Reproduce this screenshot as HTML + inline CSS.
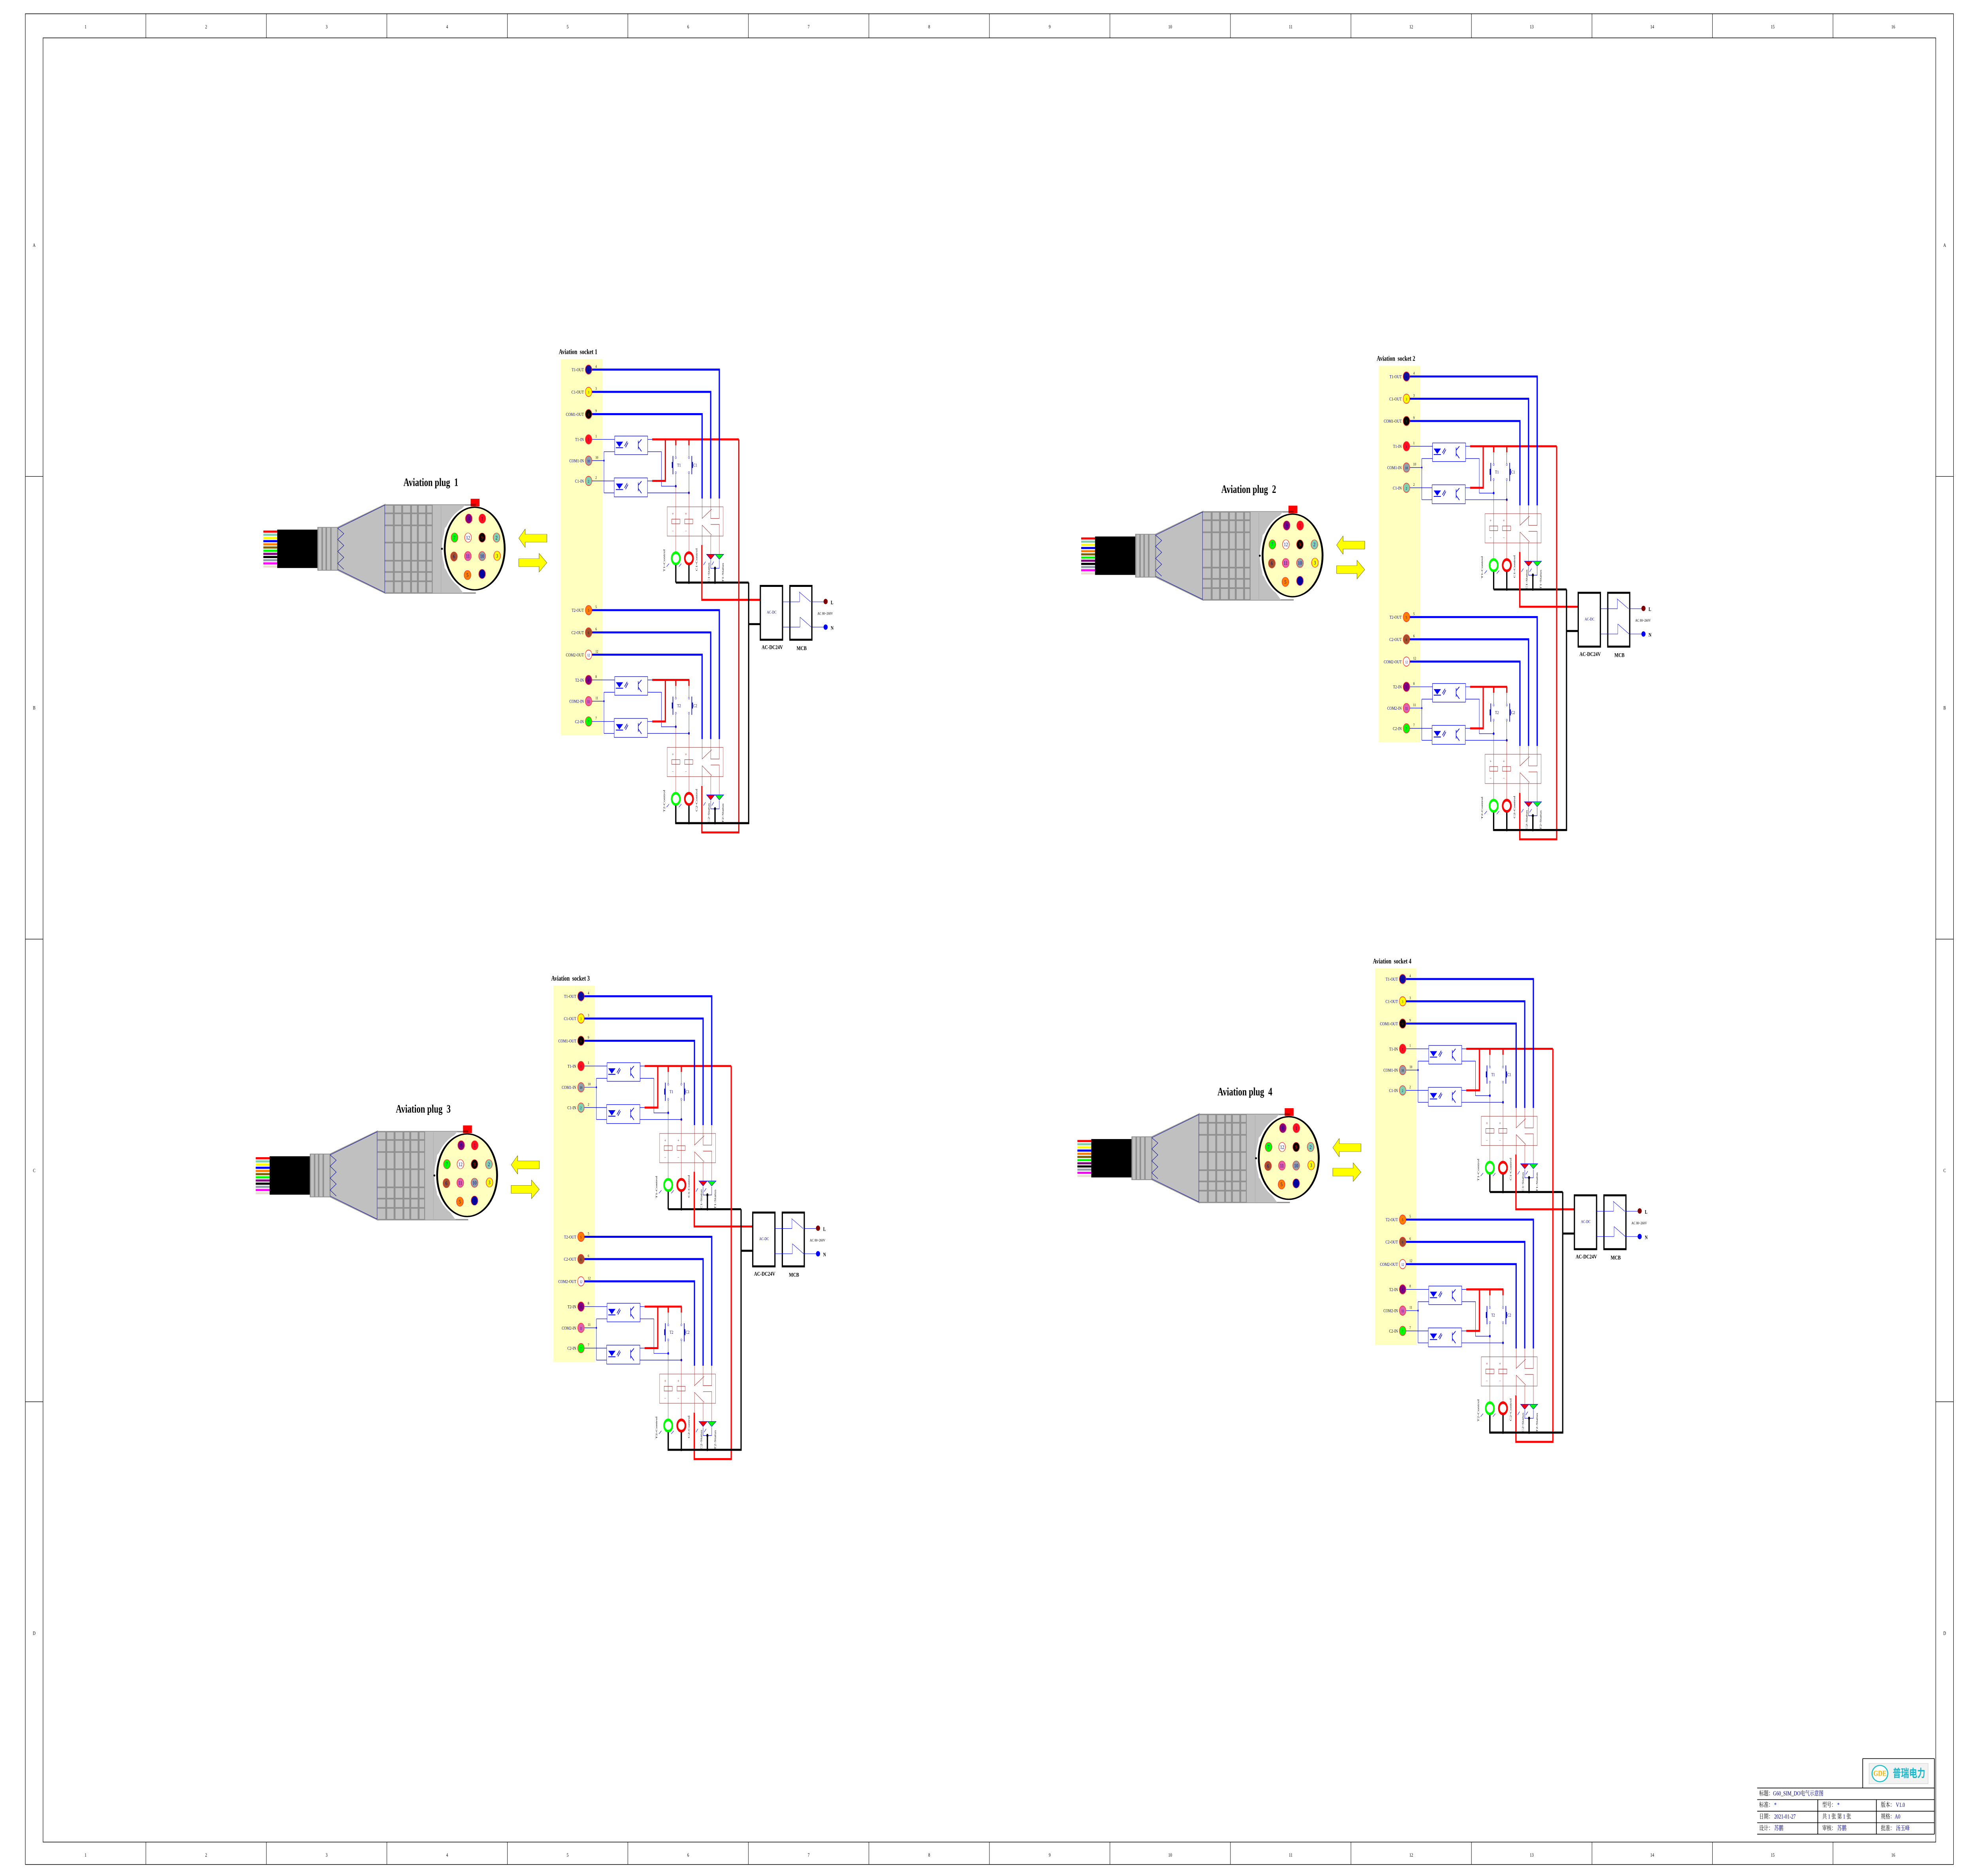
<!DOCTYPE html>
<html><head><meta charset="utf-8">
<style>
html,body{margin:0;padding:0;background:#fff;width:100%;height:100%;overflow:hidden;}
svg{display:block;width:100vw;height:100vh;}
text{font-family:"Liberation Serif","Noto Serif CJK SC",serif;}
.cjk{font-family:"Liberation Serif","Noto Sans CJK SC",sans-serif;}
</style></head>
<body>
<svg id="root" xmlns="http://www.w3.org/2000/svg" viewBox="0 0 6800 4750" preserveAspectRatio="none">
<rect width="6800" height="4750" fill="#fff"/>
<g id="ov" transform="scale(4.359)"></g>
<g transform="translate(6050,4450) scale(0.467,0.333)" fill="none">
  <path d="M778,8H1307M778,8V232M0,232H1307M0,320H1307M0,408H1307M0,496H1307M0,583H1307M447,320V583M879,320V583M1307,8V583" stroke="#000" stroke-width="5"/>
  <rect x="825" y="45" width="435" height="155" fill="#f2f2f2" stroke="#ccc" stroke-width="3"/>
  <ellipse cx="905" cy="122" rx="58" ry="62" fill="#fff" stroke="#20c0c8" stroke-width="8"/>
  <text transform="translate(905,140) scale(1,1.4)" font-size="44" font-weight="bold" fill="#f0b400" text-anchor="middle" font-family="Liberation Sans">GDE</text>
  <text class="cjk" transform="translate(1000,148) scale(1,1.4)" font-size="60" font-weight="bold" fill="#20b8c8">普瑞电力</text>
  <g class="cjk" font-size="34" fill="#000">
    <text transform="translate(15,288) scale(1,1.4)">标题：<tspan fill="#00008b">G60_SIM_DO电气示意图</tspan></text>
    <text transform="translate(15,376) scale(1,1.4)">标准：  <tspan fill="#00008b">*</tspan></text>
    <text transform="translate(480,376) scale(1,1.4)">型号：  <tspan fill="#00008b">*</tspan></text>
    <text transform="translate(912,376) scale(1,1.4)">版本： <tspan fill="#00008b">V1.0</tspan></text>
    <text transform="translate(15,464) scale(1,1.4)">日期： <tspan fill="#00008b">2021-01-27</tspan></text>
    <text transform="translate(480,464) scale(1,1.4)">共  <tspan fill="#00008b">1</tspan>    张  第  <tspan fill="#00008b">1</tspan>    张</text>
    <text transform="translate(912,464) scale(1,1.4)">规格：<tspan fill="#00008b">A0</tspan></text>
    <text transform="translate(15,552) scale(1,1.4)">设计：  <tspan fill="#00008b">苏鹏</tspan></text>
    <text transform="translate(480,552) scale(1,1.4)">审核：  <tspan fill="#00008b">苏鹏</tspan></text>
    <text transform="translate(912,552) scale(1,1.4)">批准：  <tspan fill="#00008b">汤玉峰</tspan></text>
  </g>
</g>
</svg>
<script>
(function(){
var o='';
o+='<rect x="20" y="8" width="1523" height="1075" fill="none" stroke="#000" stroke-width="0.35"/>';
o+='<rect x="34" y="22" width="1495" height="1048" fill="none" stroke="#000" stroke-width="0.35"/>';
var cw=1523/16;
for(var i=1;i<16;i++){var x=(20+cw*i).toFixed(2);o+='<path d="M'+x+',8V22M'+x+',1070V1083" stroke="#000" stroke-width="0.3"/>';}
for(var i=0;i<16;i++){var x=(20+cw*(i+0.5)).toFixed(2);o+='<text x="'+x+'" y="16.5" font-size="3" text-anchor="middle">'+(i+1)+'</text><text x="'+x+'" y="1078.5" font-size="3" text-anchor="middle">'+(i+1)+'</text>';}
var rh=1075/4,L=['A','B','C','D'];
for(var i=1;i<4;i++){var y=(8+rh*i).toFixed(2);o+='<path d="M20,'+y+'H34M1529,'+y+'H1543" stroke="#000" stroke-width="0.3"/>';}
for(var i=0;i<4;i++){var y=(8+rh*(i+0.5)+1).toFixed(2);o+='<text x="27" y="'+y+'" font-size="3" text-anchor="middle">'+L[i]+'</text><text x="1536" y="'+y+'" font-size="3" text-anchor="middle">'+L[i]+'</text>';}

function TX(x,y,t,fs,sy,ex){return '<text transform="translate('+x+','+y+') scale(1,'+sy+')" font-size="'+fs+'" '+(ex||'')+'>'+t+'</text>';}

function plug(n){
 var p='<g transform="translate(196.3,263.8) scale(0.1462,0.0769)">';
 var wc=['#ff0000','#80d0b0','#ffff00','#0000ff','#ff8000','#806000','#00ff00','#800080','#000000','#8fa0a8','#ff00ff','#e8e0d0'];
 for(var i=0;i<12;i++){p+='<rect x="80" y="'+(577+i*24)+'" width="80" height="16" fill="'+wc[i]+'"/>';}
 p+='<rect x="155" y="570" width="220" height="290" fill="#000"/>';
 p+='<rect x="375" y="553" width="107" height="324" fill="#c0c0c0" stroke="#909090" stroke-width="6"/>';
 p+='<path d="M398,553V877M420,553V877M445,553V877" stroke="#909090" stroke-width="8"/>';
 p+='<polygon points="482,553 737,380 737,1050 482,877" fill="#c0c0c0" stroke="#909090" stroke-width="6"/>';
 p+='<path d="M482,560L737,385M482,870L737,1045M737,385V1045M482,560L515,600L482,645L515,690L482,735L515,780L482,825L515,870" stroke="#0000a0" stroke-width="2.5" fill="none"/>';
 p+='<rect x="737" y="380" width="258" height="673" fill="#c0c0c0"/>';
 p+='<path d="M737,384H1228M737,1049H1228" stroke="#909090" stroke-width="10"/>';
 var gx=[785,830,878,915,960,995],gy=[447,538,668,805,890,960];
 gx.forEach(function(x){p+='<path d="M'+x+',384V1049" stroke="#909090" stroke-width="10"/>';});
 gy.forEach(function(y){p+='<path d="M737,'+y+'H995" stroke="#909090" stroke-width="12"/>';});
 p+='<polygon points="995,384 1170,384 1060,560 1045,713 1060,860 1160,1049 995,1049" fill="#c0c0c0"/>';
 p+='<path d="M1040,390V1045" stroke="#aaa" stroke-width="2"/>';
 p+='<ellipse cx="1222" cy="713" rx="162" ry="312" fill="#fff" stroke="#fff" stroke-width="30"/>';
 p+='<ellipse cx="1222" cy="713" rx="162" ry="312" fill="#ffffc0" stroke="#000" stroke-width="10"/>';
 p+='<ellipse cx="1045" cy="715" rx="5" ry="8" fill="#000"/>';
 p+='<rect x="1200" y="337" width="48" height="58" fill="#ff0000"/><rect x="1200" y="375" width="28" height="14" fill="#a00000"/>';
 var pins=[[1190,487,'#800080','8'],[1263,487,'#ff1020','1'],[1113,630,'#00ff00','7'],[1186,630,'#ffffff','12'],[1262,630,'#000000','9'],[1340,630,'#80d0b0','2'],[1110,773,'#a0522d','6'],[1185,770,'#e060b0','11'],[1262,770,'#8fa0a8','10'],[1343,768,'#ffff00','3'],[1183,913,'#ff8000','5'],[1262,905,'#0000a0','4']];
 pins.forEach(function(q){p+='<ellipse cx="'+q[0]+'" cy="'+q[1]+'" rx="18" ry="35" fill="'+q[2]+'" stroke="#ff3030" stroke-width="3"/>'+TX(q[0],q[1]+14,q[3],22,1.9,'text-anchor="middle" fill="'+(q[3]=='9'?'#ff0000':'#00008b')+'"');});
 p+=TX(985,240,'Aviation plug&#160;&#160;'+n,44,1.9,'text-anchor="middle" font-weight="bold"');
 p+='<polygon points="1460,635 1495,565 1495,605 1612,605 1612,665 1495,665 1495,705" fill="#ffff00" stroke="#606000" stroke-width="2"/>';
 p+='<polygon points="1460,790 1570,790 1570,750 1612,820 1570,890 1570,850 1460,850" fill="#ffff00" stroke="#606000" stroke-width="2"/>';
 p+='</g>';
 return p;
}

function bank(k,d){
 var b='<g transform="translate(0,'+d+')">';
 b+='<path d="M255,312H367M255,376H315M315,349V473M315,349H367M315,473H365M255,437H365M528,349H595V453H665M527,473H729M528,312H550M527,437H550" stroke="#0000ff" stroke-width="1.6" fill="none"/>';
 b+='<rect x="367" y="302" width="161" height="56" fill="none" stroke="#0000ff" stroke-width="1.6"/><rect x="365" y="428" width="162" height="57" fill="none" stroke="#0000ff" stroke-width="1.6"/>';
 [[302],[428]].forEach(function(a){var y=a[0];
  b+='<polygon points="373,'+(y+17)+' 408,'+(y+17)+' 390,'+(y+33)+'" fill="#0000ff"/><path d="M373,'+(y+35)+'H408M415,'+(y+30)+'L428,'+(y+16)+'M420,'+(y+34)+'L432,'+(y+20)+'M482,'+(y+14)+'V'+(y+40)+'M482,'+(y+22)+'L498,'+(y+10)+'M482,'+(y+32)+'L498,'+(y+46)+'" stroke="#0000ff" stroke-width="2.5" fill="none"/>';});
 b+='<circle cx="315" cy="376" r="3" fill="#0000ff"/><circle cx="665" cy="453" r="4" fill="#0000ff"/><circle cx="729" cy="473" r="4" fill="#0000ff"/>';
 b+='<path d="M550,312H'+(k==1?972:731)+'M614,312V437H550M665,312V330M729,312V330" stroke="#ff0000" stroke-width="6" fill="none"/>';
 b+='<path d="M665,330V364M665,414V453M729,330V364M729,414V473" stroke="#000" stroke-width="1.2"/>';
 b+='<path d="M665,453V650M729,473V650" stroke="#a02020" stroke-width="1.3"/>';
 b+='<circle cx="665" cy="367" r="3" fill="#fff" stroke="#0000ff"/><circle cx="665" cy="412" r="3" fill="#fff" stroke="#0000ff"/><circle cx="729" cy="367" r="3" fill="#fff" stroke="#0000ff"/><circle cx="729" cy="412" r="3" fill="#fff" stroke="#0000ff"/>';
 b+='<path d="M651,362V417M743,362V417" stroke="#0000c0" stroke-width="3"/><path d="M648,380V398M746,380V398" stroke="#0000c0" stroke-width="5"/>';
 b+=TX(672,394,'T'+k,16,0.84,'fill="#000080"')+TX(750,394,'C'+k,16,0.84,'fill="#000080"');
 b+='<rect x="623" y="515" width="273" height="88" fill="none" stroke="#a04040" stroke-width="1.3"/>';
 b+='<rect x="645" y="552" width="40" height="14" fill="none" stroke="#a02020" stroke-width="1.3"/><rect x="708" y="552" width="40" height="14" fill="none" stroke="#a02020" stroke-width="1.3"/>';
 b+=TX(646,540,'+',16,0.84,'fill="#a02020"')+TX(710,540,'+',16,0.84,'fill="#a02020"')+TX(646,592,'−',16,0.84,'fill="#a02020"')+TX(710,592,'−',16,0.84,'fill="#a02020"');
 b+='<path d="M793,490V550L840,522M835,490V550H877V490M793,570L840,600M793,570V630M835,568H877V658M835,600V658" stroke="#a02020" stroke-width="1.3" fill="none"/>';
 b+='<path d="M255,102H877V490M255,169H835V490M255,236H793V490" stroke="#0000ff" stroke-width="6" fill="none"/>';
 b+='<ellipse cx="665" cy="670" rx="20" ry="17" fill="none" stroke="#00ff00" stroke-width="8"/><ellipse cx="729" cy="670" rx="20" ry="17" fill="none" stroke="#ff0000" stroke-width="8"/>';
 b+='<polygon points="815,658 855,658 835,673" fill="#ff0000" stroke="#0000ff" stroke-width="1.5"/><polygon points="857,658 898,658 877,673" fill="#00ff00" stroke="#0000ff" stroke-width="1.5"/>';
 b+='<path d="M835,675V700H877V675M620,695L632,686M680,695L692,686M800,690L810,680M840,690L850,680" stroke="#0000ff" stroke-width="1.5" fill="none"/>';
 b+='<path d="M665,690V743M729,690V743M856,698V743M665,743H1020" stroke="#000" stroke-width="6" fill="none"/>';
 b+='<circle cx="856" cy="700" r="5" fill="#000"/><circle cx="729" cy="743" r="4" fill="#000"/><circle cx="856" cy="743" r="4" fill="#000"/>';
 var rot=function(x,y,t){return '<text transform="translate('+x+','+y+') rotate(-90) scale(1,0.84)" font-size="15">'+t+'</text>';};
 b+=rot(612,710,'T'+k+'-Control')+rot(770,708,'C'+k+'-Control')+rot(830,742,'C'+k+'-Status')+rot(898,742,'T'+k+'-Status');
 var pins=k==1?[['T1-OUT',102,'#1010a0','4'],['C1-OUT',169,'#ffff00','3'],['COM1-OUT',236,'#000000','9'],['T1-IN',312,'#ff1020','1'],['COM1-IN',376,'#8fa0a8','10'],['C1-IN',437,'#80d0b0','2']]
  :[['T2-OUT',102,'#ff8000','5'],['C2-OUT',169,'#a0522d','6'],['COM2-OUT',236,'#ffffff','12'],['T2-IN',312,'#800080','8'],['COM2-IN',376,'#e060b0','11'],['C2-IN',437,'#00ff00','7']];
 pins.forEach(function(q){
  b+='<ellipse cx="240" cy="'+q[1]+'" rx="16" ry="14" fill="'+q[2]+'" stroke="#ff3030" stroke-width="2"/>';
  b+=TX(240,q[1]+5,q[3],13,0.84,'text-anchor="middle" fill="'+(q[3]=='9'?'#ff0000':'#000080')+'"');
  b+=TX(217,q[1]+5,q[0],17,0.84,'text-anchor="end" fill="#000080"');
  b+=TX(273,q[1]-6,q[3],14,0.84,'fill="#000"');
 });
 b+='</g>';
 return b;
}

function socket(n){
 var s='<g transform="translate(426,195) scale(0.1621,0.193)">';
 s+='<rect x="105" y="70" width="202" height="1133" fill="#ffffc0"/>';
 s+=TX(95,55,'Aviation&#160; socket '+n,25,0.84,'font-weight="bold"');
 s+=bank(1,0)+bank(2,724);
 s+='<path d="M972,312V1495H792V1355M792,630V795H1077" stroke="#ff0000" stroke-width="6" fill="none"/>';
 s+='<path d="M1020,743V1467H665V1415M729,1415V1467M856,1422V1467M1020,868H1077" stroke="#000" stroke-width="6" fill="none"/>';
 s+='<rect x="1077" y="753" width="108" height="162" fill="#fff" stroke="#000" stroke-width="6"/>';
 s+='<rect x="1221" y="753" width="107" height="162" fill="#fff" stroke="#000" stroke-width="6"/>';
 s+=TX(1132,836,'AC-DC',15,0.84,'text-anchor="middle" fill="#000080"');
 s+=TX(1135,943,'AC-DC24V',21,0.84,'text-anchor="middle" font-weight="bold"')+TX(1278,946,'MCB',21,0.84,'text-anchor="middle" font-weight="bold"');
 s+='<path d="M1185,801H1268M1185,877H1270M1268,771V801M1266,771L1322,801M1270,847V877M1270,847L1325,877M1328,801H1395M1328,877H1395" stroke="#0000ff" stroke-width="1.3" fill="none"/>';
 s+='<ellipse cx="1395" cy="800" rx="10" ry="8" fill="#800000"/><ellipse cx="1395" cy="877" rx="10" ry="8" fill="#0000ff"/>';
 s+=TX(1420,808,'L',19,0.84,'font-weight="bold"')+TX(1420,885,'N',19,0.84,'font-weight="bold"')+TX(1355,840,'AC 80~260V',14,0.84,'');
 s+='</g>';
 return s;
}

var U=[[0,0,1],[646,4,2],[-6,364,3],[643,354,4]];
U.forEach(function(u){o+='<g transform="translate('+u[0]+','+u[1]+')">'+plug(u[2])+socket(u[2])+'</g>';});
document.getElementById('ov').innerHTML=o;
})();
</script>
</body></html>
